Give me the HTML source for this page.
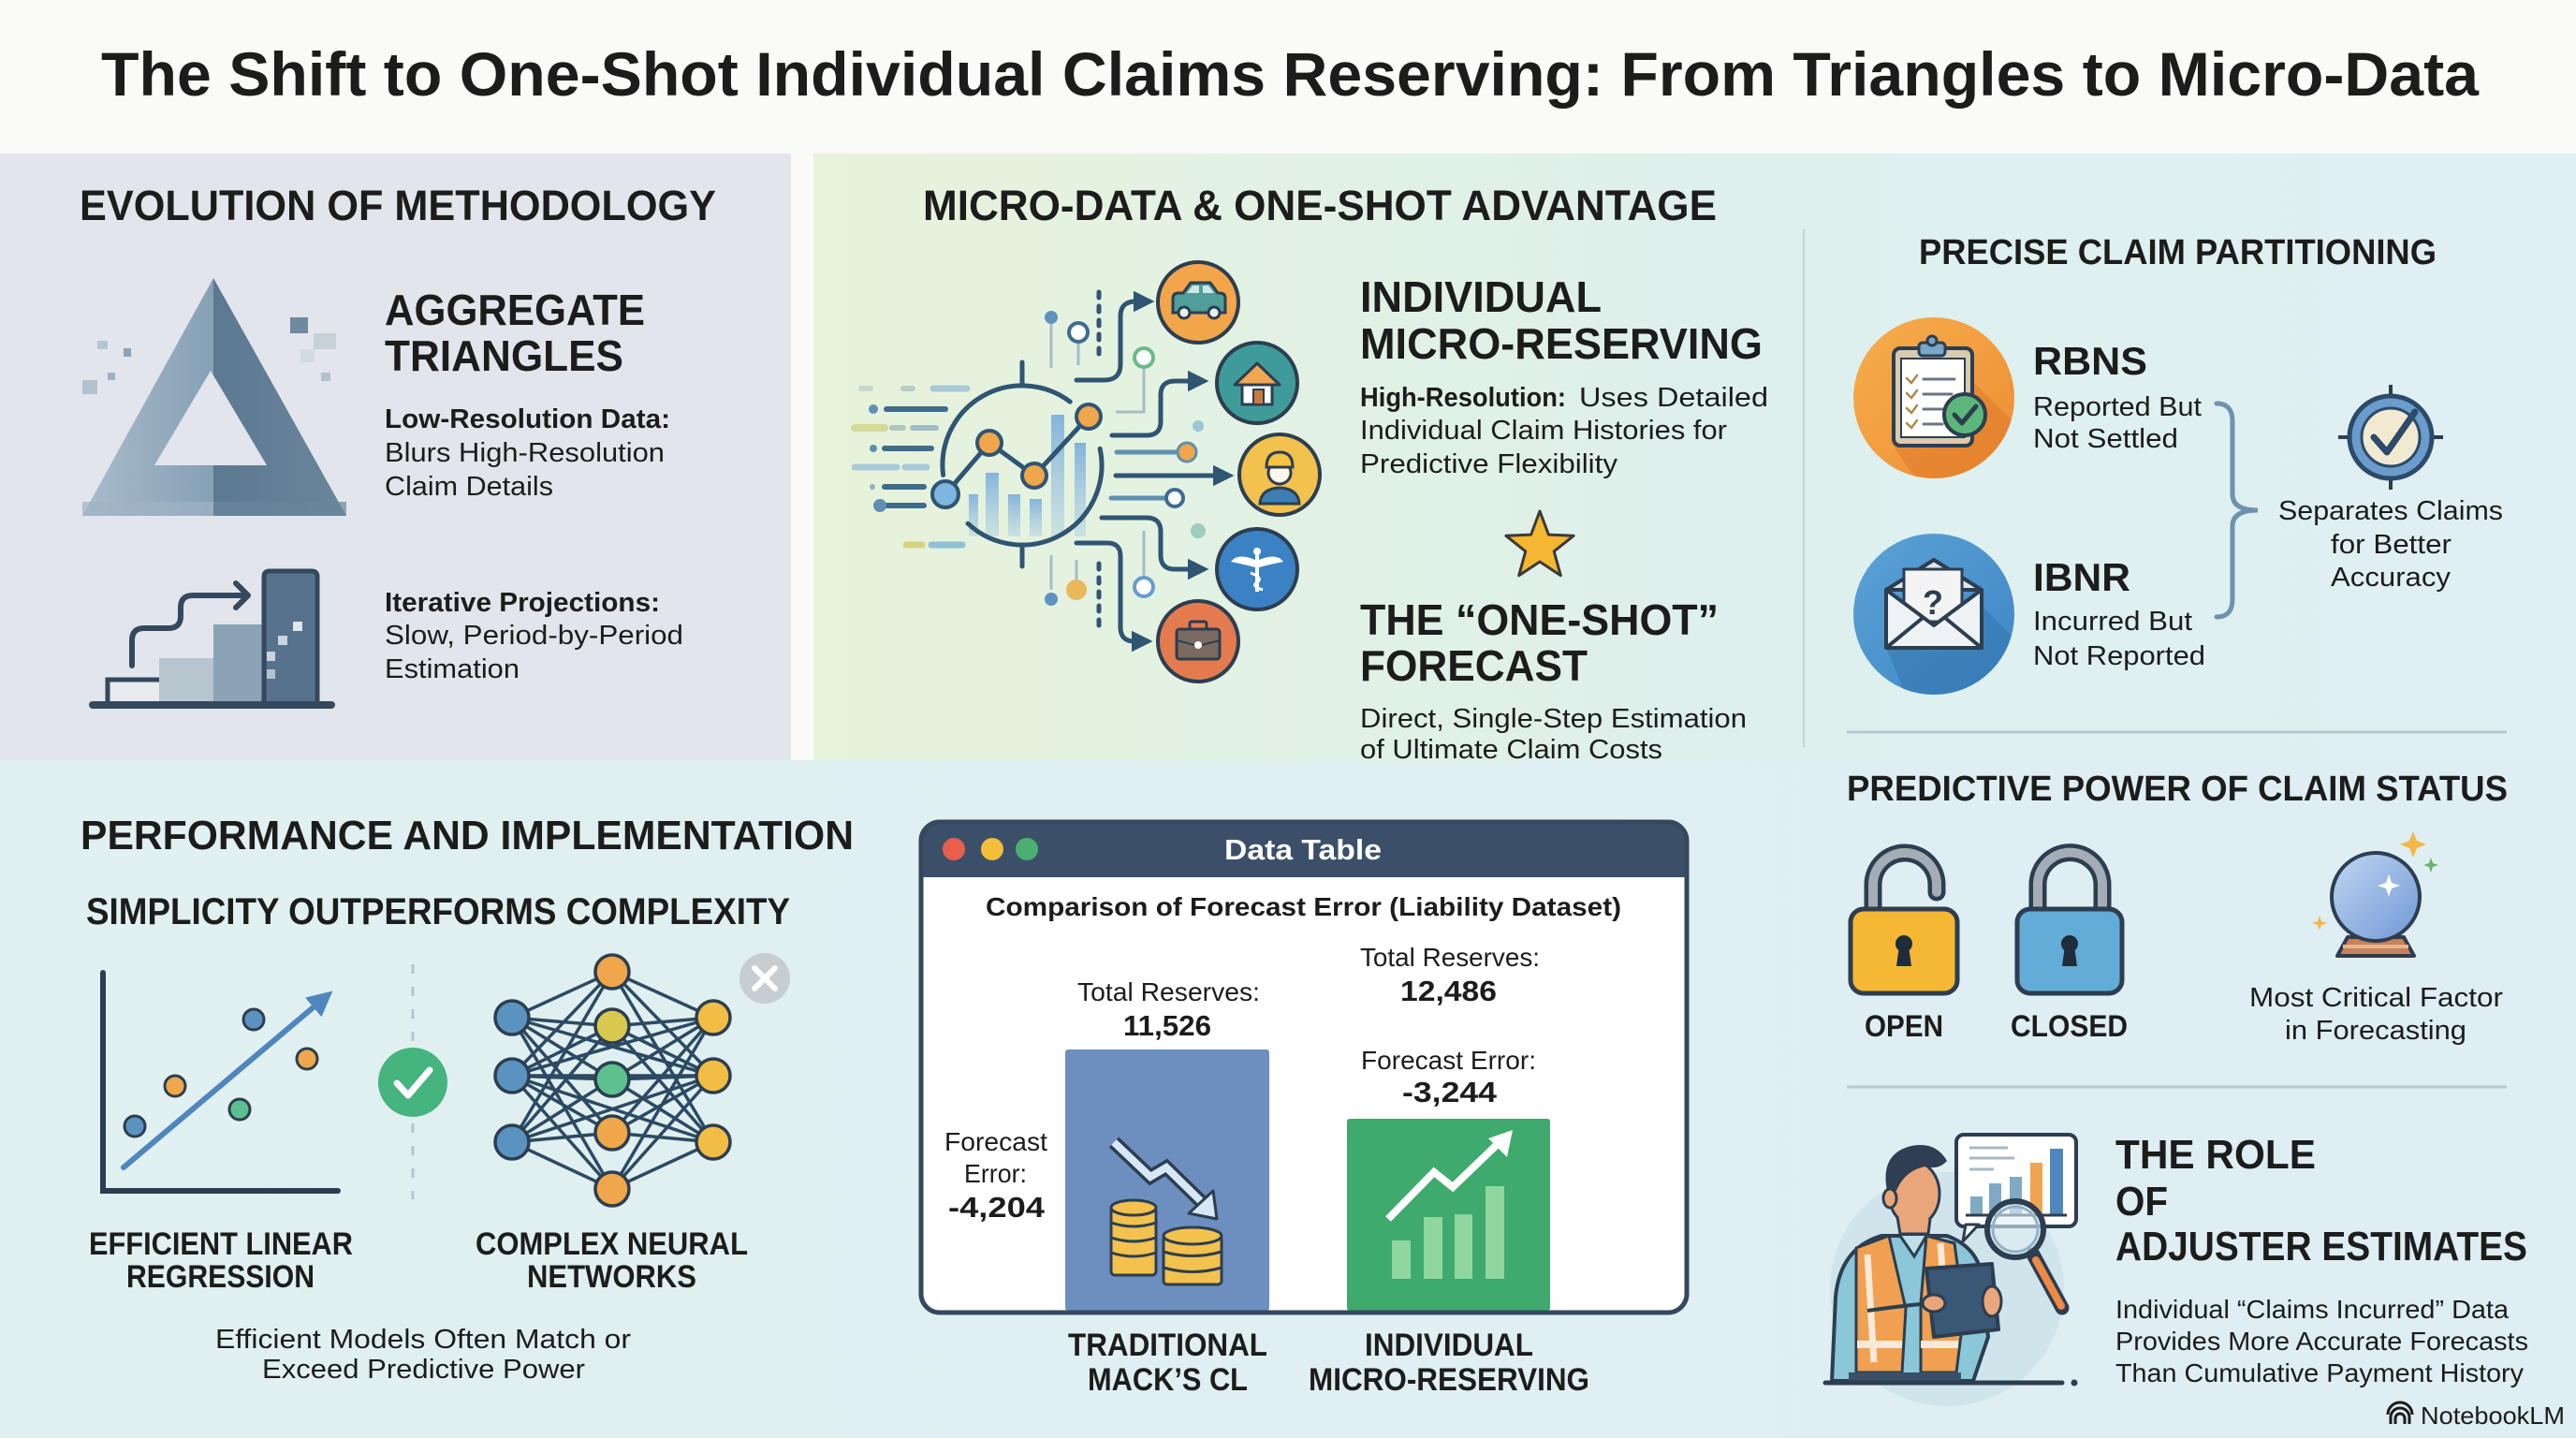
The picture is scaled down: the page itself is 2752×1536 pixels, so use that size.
<!DOCTYPE html>
<html><head><meta charset="utf-8"><style>
html,body{margin:0;padding:0;background:#fafaf8;}
svg{display:block;}
text{font-family:"Liberation Sans",sans-serif;fill:#1c1c1c;}
.b{font-weight:bold;}
</style></head><body>
<svg width="2752" height="1536" viewBox="0 0 2752 1536" xmlns="http://www.w3.org/2000/svg">
<defs>
 <linearGradient id="gMid" x1="869" y1="0" x2="2752" y2="0" gradientUnits="userSpaceOnUse">
  <stop offset="0" stop-color="#e7f3da"/>
  <stop offset="0.3" stop-color="#e1f1e5"/>
  <stop offset="0.55" stop-color="#def0ee"/>
  <stop offset="1" stop-color="#e0eff3"/>
 </linearGradient>
 <linearGradient id="gBot" x1="0" y1="0" x2="2752" y2="0" gradientUnits="userSpaceOnUse">
  <stop offset="0" stop-color="#e1f0f1"/>
  <stop offset="1" stop-color="#deeef2"/>
 </linearGradient>
 <linearGradient id="gTri" x1="88" x2="370" y1="0" y2="0" gradientUnits="userSpaceOnUse">
  <stop offset="0" stop-color="#a9bccb"/><stop offset="0.497" stop-color="#86a0b5"/>
  <stop offset="0.497" stop-color="#5c7992"/><stop offset="1" stop-color="#6b859b"/>
 </linearGradient>
 <linearGradient id="gOr" x1="0" y1="0" x2="1" y2="1">
  <stop offset="0" stop-color="#f7ae4e"/><stop offset="1" stop-color="#ec8d33"/>
 </linearGradient>
 <linearGradient id="gBl" x1="0" y1="0" x2="1" y2="1">
  <stop offset="0" stop-color="#5aa2d6"/><stop offset="1" stop-color="#3f86c4"/>
 </linearGradient>
 <linearGradient id="gBall" x1="0" y1="0" x2="1" y2="1">
  <stop offset="0" stop-color="#c2d6f2"/><stop offset="1" stop-color="#6f98d6"/>
 </linearGradient>
 <linearGradient id="gBar" x1="0" y1="0" x2="0" y2="1">
  <stop offset="0" stop-color="#7fb0da" stop-opacity="0.95"/><stop offset="1" stop-color="#9cc4e2" stop-opacity="0.35"/>
 </linearGradient>
 <clipPath id="cR"><circle cx="2066" cy="425" r="86"/></clipPath>
 <clipPath id="cI"><circle cx="2066" cy="656" r="86"/></clipPath>
 <marker id="ah" viewBox="0 0 10 10" refX="4" refY="5" markerWidth="4.5" markerHeight="4.5" orient="auto" markerUnits="strokeWidth">
  <path d="M0,0 L10,5 L0,10 z" fill="#2f5573"/>
 </marker>
 <marker id="ahb" viewBox="0 0 10 10" refX="4" refY="5" markerWidth="4.5" markerHeight="4.5" orient="auto" markerUnits="strokeWidth">
  <path d="M0,0 L10,5 L0,10 z" fill="#4f86bd"/>
 </marker>
</defs>

<!-- backgrounds -->
<rect x="0" y="0" width="2752" height="1536" fill="#fafaf8"/>
<rect x="0" y="812" width="2752" height="724" fill="url(#gBot)"/>
<rect x="0" y="164" width="845" height="648" fill="#e3e5ec"/>
<rect x="869" y="164" width="1883" height="648" fill="url(#gMid)"/>

<!-- title -->
<text class="b" x="108" y="102" font-size="66" textLength="2540" lengthAdjust="spacingAndGlyphs">The Shift to One-Shot Individual Claims Reserving: From Triangles to Micro-Data</text>

<!-- ============ LEFT PANEL ============ -->
<text class="b" x="85" y="235" font-size="45" textLength="680" lengthAdjust="spacingAndGlyphs">EVOLUTION OF METHODOLOGY</text>

<!-- pixel triangle -->
<polygon points="228,297 370,551 88,551" fill="url(#gTri)"/>
<polygon points="225,396 285,497 165,497" fill="#e3e5ec"/>
<rect x="88" y="536" width="140" height="15" fill="#9fb4c4" opacity="0.7"/>
<rect x="228" y="536" width="142" height="15" fill="#6a869d" opacity="0.7"/>
<rect x="310" y="339" width="19" height="17" fill="#6f8aa0"/>
<rect x="335" y="356" width="24" height="17" fill="#c6d1da"/>
<rect x="321" y="373" width="15" height="14" fill="#d3dbe2"/>
<rect x="343" y="398" width="10" height="9" fill="#b3c2cf"/>
<rect x="104" y="364" width="11" height="9" fill="#b8c5d0"/>
<rect x="132" y="372" width="8" height="9" fill="#8ea4b6"/>
<rect x="115" y="398" width="8" height="8" fill="#9fb2c2"/>
<rect x="88" y="406" width="16" height="15" fill="#b3c2cf"/>

<text class="b" x="411" y="347" font-size="46" textLength="278" lengthAdjust="spacingAndGlyphs">AGGREGATE</text>
<text class="b" x="411" y="396" font-size="46" textLength="255" lengthAdjust="spacingAndGlyphs">TRIANGLES</text>
<text class="b" x="411" y="457" font-size="29" textLength="305" lengthAdjust="spacingAndGlyphs">Low-Resolution Data:</text>
<text x="411" y="493" font-size="29" textLength="299" lengthAdjust="spacingAndGlyphs">Blurs High-Resolution</text>
<text x="411" y="529" font-size="29" textLength="180" lengthAdjust="spacingAndGlyphs">Claim Details</text>

<!-- stairs icon -->
<rect x="170" y="703" width="58" height="50" fill="#b7c5cf"/>
<rect x="228" y="667" width="54" height="86" fill="#8ba3b5"/>
<rect x="115" y="726" width="55" height="27" fill="#e8ecef"/>
<path d="M115,753 V726 H170" fill="none" stroke="#34495e" stroke-width="5"/>
<path d="M282,753 V616 Q282,610 288,610 H333 Q339,610 339,616 V753 Z" fill="#56728d" stroke="#34495e" stroke-width="5"/>
<rect x="313" y="664" width="10" height="10" fill="#dfe6ec"/>
<rect x="297" y="679" width="10" height="10" fill="#c9d4dd"/>
<rect x="285" y="696" width="9" height="10" fill="#c9d4dd"/>
<rect x="285" y="715" width="9" height="10" fill="#b3c3cf"/>
<path d="M99,753 H354" stroke="#34495e" stroke-width="8" stroke-linecap="round"/>
<path d="M141,711 V684 Q141,671 154,671 H180 Q193,671 193,658 V649 Q193,636 206,636 H263" fill="none" stroke="#34495e" stroke-width="6" stroke-linecap="round"/>
<path d="M252,623 L265,636 L252,649" fill="none" stroke="#34495e" stroke-width="6" stroke-linecap="round" stroke-linejoin="round"/>

<text class="b" x="411" y="653" font-size="29" textLength="294" lengthAdjust="spacingAndGlyphs">Iterative Projections:</text>
<text x="411" y="688" font-size="29" textLength="319" lengthAdjust="spacingAndGlyphs">Slow, Period-by-Period</text>
<text x="411" y="724" font-size="29" textLength="144" lengthAdjust="spacingAndGlyphs">Estimation</text>

<!-- ============ MIDDLE PANEL ============ -->
<text class="b" x="986" y="235" font-size="45" textLength="848" lengthAdjust="spacingAndGlyphs">MICRO-DATA &amp; ONE-SHOT ADVANTAGE</text>

<!-- streams -->
<g stroke-linecap="round" fill="none">
 <path d="M920,415 H930" stroke="#c8d6cf" stroke-width="6"/>
 <path d="M965,415 H975" stroke="#bcccc4" stroke-width="6"/>
 <path d="M997,415 H1033" stroke="#8fb8d4" stroke-width="7" opacity="0.7"/>
 <path d="M947,437 H1010" stroke="#3f6c8c" stroke-width="6"/>
 <path d="M913,457 H945" stroke="#d0d38a" stroke-width="8" opacity="0.85"/>
 <path d="M953,457 H965" stroke="#b0c8c0" stroke-width="6"/>
 <path d="M975,457 H1000" stroke="#8fb0c0" stroke-width="6" opacity="0.8"/>
 <path d="M945,479 H995" stroke="#3f6c8c" stroke-width="6"/>
 <path d="M913,499 H958" stroke="#a9cbd8" stroke-width="7"/>
 <path d="M967,499 H990" stroke="#a9cbd8" stroke-width="7"/>
 <path d="M945,520 H987" stroke="#3f6c8c" stroke-width="6"/>
 <path d="M947,540 H987" stroke="#3f6c8c" stroke-width="6"/>
 <path d="M968,582 H985" stroke="#d6d37e" stroke-width="7"/>
 <path d="M995,582 H1028" stroke="#8fc0d8" stroke-width="7"/>
</g>
<circle cx="933" cy="437" r="5" fill="#5f8fb5"/>
<circle cx="933" cy="479" r="4" fill="#5f8fb5"/>
<circle cx="932" cy="520" r="3" fill="#8fb0c0"/>
<circle cx="940" cy="540" r="7" fill="#5f8fb5"/>

<!-- chart bars -->
<rect x="1035" y="528" width="10" height="45" fill="url(#gBar)"/>
<rect x="1053" y="505" width="14" height="68" fill="url(#gBar)"/>
<rect x="1077" y="528" width="13" height="45" fill="url(#gBar)"/>
<rect x="1100" y="533" width="13" height="40" fill="url(#gBar)"/>
<rect x="1123" y="443" width="14" height="130" fill="url(#gBar)"/>
<rect x="1148" y="473" width="12" height="100" fill="url(#gBar)"/>
<!-- arcs -->
<path d="M1007.6,507.4 A85,85 0 0 1 1143.2,429.1" fill="none" stroke="#2f5573" stroke-width="5" stroke-linecap="round"/>
<path d="M1175.1,479.3 A85,85 0 0 1 1034,559.2" fill="none" stroke="#2f5573" stroke-width="5" stroke-linecap="round"/>
<path d="M1092,387 V412 M1092,582 V605" stroke="#2f5573" stroke-width="5" stroke-linecap="round"/>
<polyline points="1010,528 1057,473 1105,508 1163,445" fill="none" stroke="#2f5573" stroke-width="5"/>
<circle cx="1010" cy="528" r="14" fill="#7fb6e0" stroke="#2f5573" stroke-width="4"/>
<circle cx="1057" cy="473" r="13" fill="#f0a64a" stroke="#2f5573" stroke-width="4"/>
<circle cx="1105" cy="508" r="13" fill="#f0a64a" stroke="#2f5573" stroke-width="4"/>
<circle cx="1163" cy="445" r="13" fill="#f0a64a" stroke="#2f5573" stroke-width="4"/>

<!-- connectors -->
<g fill="none" stroke="#2f5573" stroke-width="5" stroke-linecap="round">
 <path d="M1150,406 H1180 Q1197,406 1197,389 V338 Q1197,322 1213,322 H1220" marker-end="url(#ah)"/>
 <path d="M1188,465 H1225 Q1240,465 1240,450 V422 Q1240,407 1255,407 H1278" marker-end="url(#ah)"/>
 <path d="M1192,508 H1305" marker-end="url(#ah)"/>
 <path d="M1177,553 H1225 Q1240,553 1240,568 V593 Q1240,608 1255,608 H1278" marker-end="url(#ah)"/>
 <path d="M1150,580 H1183 Q1197,580 1197,594 V670 Q1197,685 1212,685 H1218" marker-end="url(#ah)"/>
 <path d="M1193,483 H1258" stroke="#5f8fb0" stroke-width="5"/>
 <path d="M1187,532 H1246" stroke="#5f8fb0" stroke-width="5"/>
 <path d="M1174,312 V382 M1174,602 V673" stroke-dasharray="6 9" stroke-width="5"/>
</g>
<circle cx="1268" cy="483" r="10" fill="#f0a64a" stroke="#5f8fb0" stroke-width="3"/>
<circle cx="1255" cy="532" r="9" fill="#fff" stroke="#3f6c92" stroke-width="4"/>
<g fill="none" stroke="#a8bcca" stroke-width="3">
 <path d="M1123,345 V393"/><path d="M1152,365 V390"/>
 <path d="M1222,392 V440 H1192"/><path d="M1123,593 V630"/>
 <path d="M1150,598 V619"/><path d="M1222,567 V617"/>
</g>
<circle cx="1123" cy="339" r="7" fill="#5f93bd"/>
<circle cx="1152" cy="355" r="10" fill="#fff" stroke="#3f6c92" stroke-width="4"/>
<circle cx="1222" cy="382" r="10" fill="#fff" stroke="#6cb88a" stroke-width="4"/>
<circle cx="1123" cy="640" r="7" fill="#5f93bd"/>
<circle cx="1150" cy="630" r="11" fill="#eab04a" opacity="0.9"/>
<circle cx="1222" cy="627" r="10" fill="#fff" stroke="#6a9ccc" stroke-width="4"/>
<circle cx="1280" cy="567" r="8" fill="#8fc2b8" opacity="0.8"/>
<circle cx="1280" cy="455" r="6" fill="#9ec5d6"/>

<!-- icon circles -->
<circle cx="1280" cy="323" r="43" fill="#f3a54a" stroke="#2c3e50" stroke-width="4"/>
<path d="M1253,334 V319 Q1253,313 1259,313 H1264 L1272,302 H1293 L1301,313 H1303 Q1309,313 1309,319 V334 Z" fill="#4e9e9a" stroke="#2c3e50" stroke-width="3"/>
<path d="M1268,313 L1274,305 H1281 V313 Z M1285,313 V305 H1291 L1297,313 Z" fill="#cfe6e2"/>
<circle cx="1265" cy="334" r="6" fill="#e6f0ee" stroke="#2c3e50" stroke-width="3"/>
<circle cx="1297" cy="334" r="6" fill="#e6f0ee" stroke="#2c3e50" stroke-width="3"/>

<circle cx="1343" cy="409" r="43" fill="#3f9b99" stroke="#2c3e50" stroke-width="4"/>
<rect x="1327" y="406" width="32" height="26" fill="#fff" stroke="#2c3e50" stroke-width="3"/>
<polygon points="1319,411 1343,388 1367,411" fill="#f2a552" stroke="#2c3e50" stroke-width="3" stroke-linejoin="round"/>
<rect x="1339" y="416" width="11" height="16" fill="#c97a3e" stroke="#2c3e50" stroke-width="2"/>

<circle cx="1367" cy="507" r="43" fill="#f2c14e" stroke="#2c3e50" stroke-width="4"/>
<path d="M1346,538 Q1347,522 1367,521 Q1387,522 1388,538 Z" fill="#3d7fb5" stroke="#2c3e50" stroke-width="3"/>
<circle cx="1367" cy="505" r="12" fill="#fdf6ea" stroke="#2c3e50" stroke-width="3"/>
<path d="M1353,499 Q1353,483 1367,483 Q1381,483 1381,499 Z" fill="#f5c542" stroke="#2c3e50" stroke-width="3"/>

<circle cx="1343" cy="608" r="43" fill="#3b82c4" stroke="#2c3e50" stroke-width="4"/>
<path d="M1343,590 V632" stroke="#fff" stroke-width="4"/>
<circle cx="1343" cy="589" r="4" fill="#fff"/>
<path d="M1341,598 Q1322,590 1315,600 Q1330,603 1341,606 Z M1345,598 Q1364,590 1371,600 Q1356,603 1345,606 Z" fill="#fff"/>
<path d="M1336,612 Q1350,617 1343,622 Q1336,626 1349,630" fill="none" stroke="#fff" stroke-width="3"/>

<circle cx="1280" cy="685" r="43" fill="#e47b4f" stroke="#2c3e50" stroke-width="4"/>
<rect x="1271" y="664" width="18" height="10" rx="2" fill="none" stroke="#2c3e50" stroke-width="3"/>
<rect x="1257" y="672" width="46" height="32" rx="3" fill="#7a6a5f" stroke="#2c3e50" stroke-width="3"/>
<path d="M1257,684 L1280,690 L1303,684" fill="none" stroke="#2c3e50" stroke-width="2"/>
<circle cx="1280" cy="689" r="4" fill="#fff"/>

<text class="b" x="1453" y="333" font-size="46" textLength="258" lengthAdjust="spacingAndGlyphs">INDIVIDUAL</text>
<text class="b" x="1453" y="383" font-size="46" textLength="430" lengthAdjust="spacingAndGlyphs">MICRO-RESERVING</text>
<text class="b" x="1453" y="434" font-size="29" textLength="220" lengthAdjust="spacingAndGlyphs">High-Resolution:</text>
<text x="1687" y="434" font-size="29" textLength="202" lengthAdjust="spacingAndGlyphs">Uses Detailed</text>
<text x="1453" y="469" font-size="29" textLength="392" lengthAdjust="spacingAndGlyphs">Individual Claim Histories for</text>
<text x="1453" y="505" font-size="29" textLength="275" lengthAdjust="spacingAndGlyphs">Predictive Flexibility</text>

<polygon points="1645,546 1654.4,571.1 1681.1,572.3 1660.2,588.9 1667.3,614.7 1645,600 1622.7,614.7 1629.8,588.9 1608.9,572.3 1635.6,571.1" fill="#f5b731" stroke="#3a3a3a" stroke-width="3" stroke-linejoin="round"/>

<text class="b" x="1453" y="678" font-size="46" textLength="383" lengthAdjust="spacingAndGlyphs">THE “ONE-SHOT”</text>
<text class="b" x="1453" y="727" font-size="46" textLength="243" lengthAdjust="spacingAndGlyphs">FORECAST</text>
<text x="1453" y="777" font-size="29" textLength="413" lengthAdjust="spacingAndGlyphs">Direct, Single-Step Estimation</text>
<text x="1453" y="810" font-size="29" textLength="323" lengthAdjust="spacingAndGlyphs">of Ultimate Claim Costs</text>

<!-- ============ RIGHT TOP ============ -->
<path d="M1927,245 V798" stroke="#c5d1d7" stroke-width="2"/>
<text class="b" x="2050" y="282" font-size="38" textLength="553" lengthAdjust="spacingAndGlyphs">PRECISE CLAIM PARTITIONING</text>

<circle cx="2066" cy="425" r="86" fill="url(#gOr)"/>
<polygon points="2100,400 2200,500 2200,560 2080,560 2023,477 2106,477" fill="#e0792a" opacity="0.55" clip-path="url(#cR)"/>
<rect x="2023" y="372" width="84" height="104" rx="7" fill="#d9cbb0" stroke="#2c3e50" stroke-width="4"/>
<rect x="2031" y="383" width="68" height="84" fill="#fff" stroke="#2c3e50" stroke-width="2"/>
<rect x="2050" y="366" width="28" height="14" rx="4" fill="#7aa6c8" stroke="#2c3e50" stroke-width="3"/>
<circle cx="2064" cy="364" r="5" fill="#7aa6c8" stroke="#2c3e50" stroke-width="3"/>
<g fill="none" stroke="#b08a4a" stroke-width="2.5" stroke-linecap="round">
 <path d="M2037,404 L2042,409 L2048,401"/><path d="M2037,420 L2042,425 L2048,417"/>
 <path d="M2037,436 L2042,441 L2048,433"/><path d="M2037,452 L2042,457 L2048,449"/>
</g>
<g stroke="#6b7480" stroke-width="3" stroke-linecap="round">
 <path d="M2055,405 H2088"/><path d="M2055,421 H2085"/><path d="M2055,437 H2075"/><path d="M2055,453 H2075"/>
</g>
<circle cx="2099" cy="443" r="22" fill="#5cb87a" stroke="#2c3e50" stroke-width="4"/>
<path d="M2088,443 L2096,452 L2111,434" fill="none" stroke="#2c3e50" stroke-width="5" stroke-linecap="round" stroke-linejoin="round"/>

<text class="b" x="2172" y="400" font-size="42" textLength="122" lengthAdjust="spacingAndGlyphs">RBNS</text>
<text x="2172" y="444" font-size="29" textLength="180" lengthAdjust="spacingAndGlyphs">Reported But</text>
<text x="2172" y="478" font-size="29" textLength="155" lengthAdjust="spacingAndGlyphs">Not Settled</text>

<circle cx="2066" cy="656" r="86" fill="url(#gBl)"/>
<polygon points="2110,640 2200,730 2200,800 2060,800 2015,692 2117,692" fill="#2f6fa9" opacity="0.45" clip-path="url(#cI)"/>
<polygon points="2015,630 2066,598 2117,630" fill="#dfe6ec" stroke="#2c3e50" stroke-width="4" stroke-linejoin="round"/>
<rect x="2034" y="608" width="62" height="56" fill="#f4f4f4" stroke="#2c3e50" stroke-width="3"/>
<text class="b" x="2065" y="656" font-size="36" text-anchor="middle" fill="#2c3e50" style="fill:#2c3e50">?</text>
<path d="M2015,630 L2066,668 L2117,630 V692 H2015 Z" fill="#eef2f5" stroke="#2c3e50" stroke-width="4" stroke-linejoin="round"/>
<path d="M2015,692 L2054,660 M2117,692 L2078,660" stroke="#2c3e50" stroke-width="4"/>

<text class="b" x="2172" y="631" font-size="42" textLength="104" lengthAdjust="spacingAndGlyphs">IBNR</text>
<text x="2172" y="673" font-size="29" textLength="170" lengthAdjust="spacingAndGlyphs">Incurred But</text>
<text x="2172" y="710" font-size="29" textLength="184" lengthAdjust="spacingAndGlyphs">Not Reported</text>

<path d="M2368,431 Q2385,431 2385,450 V528 Q2385,545 2412,545 Q2385,545 2385,562 V640 Q2385,659 2368,659" fill="none" stroke="#6d92ad" stroke-width="5" stroke-linecap="round"/>

<!-- target -->
<path d="M2498,467 H2610 M2554,411 V523" stroke="#2c3e50" stroke-width="4"/>
<circle cx="2554" cy="467" r="44" fill="#6a9ccc" stroke="#2c4a6a" stroke-width="5"/>
<circle cx="2554" cy="467" r="31" fill="#f2ead0" stroke="#2c4a6a" stroke-width="3"/>
<path d="M2536,467 L2550,483 L2580,440" fill="none" stroke="#2c4a6a" stroke-width="7" stroke-linecap="round" stroke-linejoin="round"/>

<text x="2434" y="555" font-size="29" textLength="240" lengthAdjust="spacingAndGlyphs">Separates Claims</text>
<text x="2490" y="591" font-size="29" textLength="129" lengthAdjust="spacingAndGlyphs">for Better</text>
<text x="2490" y="626" font-size="29" textLength="128" lengthAdjust="spacingAndGlyphs">Accuracy</text>

<path d="M1973,782 H2678" stroke="#b7c8d1" stroke-width="3"/>

<!-- ============ BOTTOM LEFT ============ -->
<text class="b" x="86" y="907" font-size="44" textLength="826" lengthAdjust="spacingAndGlyphs">PERFORMANCE AND IMPLEMENTATION</text>
<text class="b" x="92" y="987" font-size="40" textLength="752" lengthAdjust="spacingAndGlyphs">SIMPLICITY OUTPERFORMS COMPLEXITY</text>

<path d="M110,1039 V1272 H361" fill="none" stroke="#2c3e50" stroke-width="6" stroke-linecap="round"/>
<path d="M132,1247 L343,1069" stroke="#4f86bd" stroke-width="6" stroke-linecap="round" marker-end="url(#ahb)"/>
<circle cx="144" cy="1203" r="11" fill="#5b93c0" stroke="#2c3e50" stroke-width="3"/>
<circle cx="187" cy="1160" r="11" fill="#f0a64a" stroke="#2c3e50" stroke-width="3"/>
<circle cx="256" cy="1185" r="11" fill="#5cbf8f" stroke="#2c3e50" stroke-width="3"/>
<circle cx="271" cy="1089" r="11" fill="#5b93c0" stroke="#2c3e50" stroke-width="3"/>
<circle cx="328" cy="1131" r="11" fill="#f0a64a" stroke="#2c3e50" stroke-width="3"/>

<path d="M441,1030 V1112 M441,1200 V1281" stroke="#b8c4cc" stroke-width="3" stroke-dasharray="10 14"/>
<circle cx="441" cy="1156" r="37" fill="#45b47f"/>
<path d="M424,1157 L436,1170 L459,1143" fill="none" stroke="#fff" stroke-width="7" stroke-linecap="round" stroke-linejoin="round"/>

<path stroke="#2c4a63" stroke-width="3.5" fill="none" d="
M547,1087 L654,1038 M547,1087 L654,1096 M547,1087 L654,1153 M547,1087 L654,1210 M547,1087 L654,1270
M547,1149 L654,1038 M547,1149 L654,1096 M547,1149 L654,1153 M547,1149 L654,1210 M547,1149 L654,1270
M547,1220 L654,1038 M547,1220 L654,1096 M547,1220 L654,1153 M547,1220 L654,1210 M547,1220 L654,1270
M762,1087 L654,1038 M762,1087 L654,1096 M762,1087 L654,1153 M762,1087 L654,1210 M762,1087 L654,1270
M762,1149 L654,1038 M762,1149 L654,1096 M762,1149 L654,1153 M762,1149 L654,1210 M762,1149 L654,1270
M762,1220 L654,1038 M762,1220 L654,1096 M762,1220 L654,1153 M762,1220 L654,1210 M762,1220 L654,1270
M547,1087 L762,1149 M547,1149 L762,1087 M547,1149 L762,1220 M547,1220 L762,1149 M547,1149 L762,1149"/>
<g stroke="#2c3e50" stroke-width="3.5">
 <circle cx="547" cy="1087" r="18" fill="#5b93c0"/>
 <circle cx="547" cy="1149" r="18" fill="#5b93c0"/>
 <circle cx="547" cy="1220" r="18" fill="#5b93c0"/>
 <circle cx="654" cy="1038" r="18" fill="#f0a64a"/>
 <circle cx="654" cy="1096" r="18" fill="#d9c94e"/>
 <circle cx="654" cy="1153" r="18" fill="#5cc08f"/>
 <circle cx="654" cy="1210" r="18" fill="#f0a64a"/>
 <circle cx="654" cy="1270" r="18" fill="#f0a64a"/>
 <circle cx="762" cy="1087" r="18" fill="#f2bd45"/>
 <circle cx="762" cy="1149" r="18" fill="#f2bd45"/>
 <circle cx="762" cy="1220" r="18" fill="#f2bd45"/>
</g>
<circle cx="817" cy="1045" r="27" fill="#c6cdd3"/>
<path d="M806,1034 L828,1056 M828,1034 L806,1056" stroke="#fff" stroke-width="6" stroke-linecap="round"/>

<text class="b" x="95" y="1340" font-size="34" textLength="282" lengthAdjust="spacingAndGlyphs">EFFICIENT LINEAR</text>
<text class="b" x="135" y="1375" font-size="34" textLength="201" lengthAdjust="spacingAndGlyphs">REGRESSION</text>
<text class="b" x="508" y="1340" font-size="34" textLength="291" lengthAdjust="spacingAndGlyphs">COMPLEX NEURAL</text>
<text class="b" x="563" y="1375" font-size="34" textLength="181" lengthAdjust="spacingAndGlyphs">NETWORKS</text>
<text x="230" y="1440" font-size="29" textLength="444" lengthAdjust="spacingAndGlyphs">Efficient Models Often Match or</text>
<text x="280" y="1472" font-size="29" textLength="345" lengthAdjust="spacingAndGlyphs">Exceed Predictive Power</text>

<!-- ============ DATA TABLE ============ -->
<rect x="984" y="878" width="818" height="524" rx="20" fill="#fff"/>
<path d="M984,937 V898 Q984,878 1004,878 H1782 Q1802,878 1802,898 V937 Z" fill="#3b5068"/>
<circle cx="1019" cy="907" r="12" fill="#e8604c"/>
<circle cx="1060" cy="907" r="12" fill="#f4bd3a"/>
<circle cx="1097" cy="907" r="12" fill="#4caf72"/>
<text class="b" x="1308" y="918" font-size="31" textLength="168" lengthAdjust="spacingAndGlyphs" style="fill:#fff">Data Table</text>
<text class="b" x="1053" y="978" font-size="28" textLength="679" lengthAdjust="spacingAndGlyphs">Comparison of Forecast Error (Liability Dataset)</text>

<rect x="1138" y="1121" width="218" height="279" rx="3" fill="#6c8fbf"/>
<rect x="1439" y="1195" width="217" height="205" rx="3" fill="#3eaa6d"/>

<!-- down arrow -->
<path d="M1190,1220 L1229,1257 L1246,1247 L1290,1290" fill="none" stroke="#2c3e50" stroke-width="15" stroke-linejoin="miter"/>
<path d="M1190,1220 L1229,1257 L1246,1247 L1290,1290" fill="none" stroke="#d6e8f6" stroke-width="8" stroke-linejoin="miter"/>
<polygon points="1300,1302 1270,1296 1296,1272" fill="#d6e8f6" stroke="#2c3e50" stroke-width="3" stroke-linejoin="round"/>
<!-- coins -->
<g stroke="#2c3e50" stroke-width="3" fill="#f2c14e">
 <rect x="1187" y="1290" width="48" height="72" rx="4"/>
 <ellipse cx="1211" cy="1290" rx="24" ry="8"/>
 <path d="M1187,1306 Q1211,1314 1235,1306 M1187,1322 Q1211,1330 1235,1322 M1187,1338 Q1211,1346 1235,1338" fill="none"/>
 <rect x="1243" y="1320" width="62" height="52" rx="4"/>
 <ellipse cx="1274" cy="1320" rx="31" ry="9"/>
 <path d="M1243,1337 Q1274,1346 1305,1337 M1243,1354 Q1274,1363 1305,1354" fill="none"/>
</g>
<!-- green chart -->
<rect x="1487" y="1325" width="20" height="41" fill="#8fd6a0"/>
<rect x="1521" y="1300" width="20" height="66" fill="#8fd6a0"/>
<rect x="1554" y="1297" width="19" height="69" fill="#8fd6a0"/>
<rect x="1587" y="1267" width="20" height="99" fill="#8fd6a0"/>
<polyline points="1483,1302 1532,1252 1552,1268 1603,1219" fill="none" stroke="#fff" stroke-width="8" stroke-linejoin="miter"/>
<polygon points="1616,1207 1610,1236 1590,1216" fill="#fff"/>

<rect x="984" y="878" width="818" height="524" rx="20" fill="none" stroke="#34495e" stroke-width="5"/>

<text x="1151" y="1069" font-size="28" textLength="195" lengthAdjust="spacingAndGlyphs">Total Reserves:</text>
<text class="b" x="1200" y="1106" font-size="31" textLength="94" lengthAdjust="spacingAndGlyphs">11,526</text>
<text x="1453" y="1032" font-size="28" textLength="192" lengthAdjust="spacingAndGlyphs">Total Reserves:</text>
<text class="b" x="1496" y="1069" font-size="31" textLength="103" lengthAdjust="spacingAndGlyphs">12,486</text>
<text x="1454" y="1142" font-size="28" textLength="187" lengthAdjust="spacingAndGlyphs">Forecast Error:</text>
<text class="b" x="1498" y="1177" font-size="31" textLength="101" lengthAdjust="spacingAndGlyphs">-3,244</text>
<text x="1009" y="1229" font-size="28" textLength="110" lengthAdjust="spacingAndGlyphs">Forecast</text>
<text x="1030" y="1263" font-size="28" textLength="67" lengthAdjust="spacingAndGlyphs">Error:</text>
<text class="b" x="1013" y="1300" font-size="31" textLength="103" lengthAdjust="spacingAndGlyphs">-4,204</text>

<text class="b" x="1141" y="1448" font-size="34" textLength="213" lengthAdjust="spacingAndGlyphs">TRADITIONAL</text>
<text class="b" x="1162" y="1485" font-size="34" textLength="171" lengthAdjust="spacingAndGlyphs">MACK’S CL</text>
<text class="b" x="1458" y="1448" font-size="34" textLength="180" lengthAdjust="spacingAndGlyphs">INDIVIDUAL</text>
<text class="b" x="1398" y="1485" font-size="34" textLength="300" lengthAdjust="spacingAndGlyphs">MICRO-RESERVING</text>

<!-- ============ BOTTOM RIGHT ============ -->
<text class="b" x="1973" y="855" font-size="38" textLength="706" lengthAdjust="spacingAndGlyphs">PREDICTIVE POWER OF CLAIM STATUS</text>

<!-- open lock -->
<path d="M2001,975 V945 A34,34 0 0 1 2069,945 V953" fill="none" stroke="#2c3e50" stroke-width="19" stroke-linecap="round"/>
<path d="M2001,975 V945 A34,34 0 0 1 2069,945 V953" fill="none" stroke="#a4adb6" stroke-width="10" stroke-linecap="round"/>
<rect x="1977" y="971" width="114" height="90" rx="14" fill="#f5b835" stroke="#2c3e50" stroke-width="5"/>
<circle cx="2034" cy="1008" r="9" fill="#1f2d3a"/>
<path d="M2029,1010 L2026,1032 H2042 L2039,1010 Z" fill="#1f2d3a"/>
<!-- closed lock -->
<path d="M2177,975 V945 A34.5,34.5 0 0 1 2246,945 V975" fill="none" stroke="#2c3e50" stroke-width="19"/>
<path d="M2177,975 V945 A34.5,34.5 0 0 1 2246,945 V975" fill="none" stroke="#a4adb6" stroke-width="10"/>
<rect x="2155" y="971" width="112" height="90" rx="14" fill="#62acd8" stroke="#2c3e50" stroke-width="5"/>
<circle cx="2211" cy="1008" r="9" fill="#1f2d3a"/>
<path d="M2206,1010 L2203,1032 H2219 L2216,1010 Z" fill="#1f2d3a"/>

<text class="b" x="1992" y="1107" font-size="32" textLength="84" lengthAdjust="spacingAndGlyphs">OPEN</text>
<text class="b" x="2148" y="1107" font-size="32" textLength="125" lengthAdjust="spacingAndGlyphs">CLOSED</text>

<!-- crystal ball -->
<path d="M2497,1021 L2508,1001 H2568 L2579,1021 Z" fill="#c8815a" stroke="#2c3e50" stroke-width="4" stroke-linejoin="round"/>
<path d="M2503,1011 H2573" stroke="#e7b491" stroke-width="4"/>
<circle cx="2538" cy="958" r="47" fill="url(#gBall)" stroke="#2c3e50" stroke-width="4"/>
<path d="M2552,934 L2555,943 L2564,946 L2555,949 L2552,958 L2549,949 L2540,946 L2549,943 Z" fill="#fff"/>
<path d="M2578,888 L2582,898 L2592,902 L2582,906 L2578,916 L2574,906 L2564,902 L2574,898 Z" fill="#f2b84b"/>
<path d="M2597,916 L2599,922 L2605,924 L2599,926 L2597,932 L2595,926 L2589,924 L2595,922 Z" fill="#6fae6a"/>
<path d="M2478,978 L2480,984 L2486,986 L2480,988 L2478,994 L2476,988 L2470,986 L2476,984 Z" fill="#f2b84b"/>

<text x="2403" y="1075" font-size="29" textLength="271" lengthAdjust="spacingAndGlyphs">Most Critical Factor</text>
<text x="2441" y="1110" font-size="29" textLength="194" lengthAdjust="spacingAndGlyphs">in Forecasting</text>

<path d="M1973,1161 H2678" stroke="#b7c8d1" stroke-width="3"/>

<!-- adjuster -->
<circle cx="2080" cy="1377" r="125" fill="#cde2ea" opacity="0.85"/>
<path d="M1957,1475 L1961,1385 Q1966,1333 2010,1320 L2080,1320 Q2112,1332 2117,1362 L2124,1428 L2108,1475 Z" fill="#8cc6d9" stroke="#2c3e50" stroke-width="4" stroke-linejoin="round"/>
<path d="M1983,1333 L2018,1320 L2036,1398 L2032,1466 L1983,1466 Z" fill="#f0a050" stroke="#2c3e50" stroke-width="3" stroke-linejoin="round"/>
<path d="M2058,1320 L2088,1328 L2098,1402 L2090,1466 L2052,1466 L2052,1392 Z" fill="#f0a050" stroke="#2c3e50" stroke-width="3" stroke-linejoin="round"/>
<path d="M1995,1340 L2002,1455 M2073,1328 L2078,1400" stroke="#fbe9d8" stroke-width="7"/>
<path d="M1984,1436 H2032 M2052,1436 H2092" stroke="#fbe9d8" stroke-width="8"/>
<rect x="1975" y="1466" width="120" height="11" fill="#3a5068"/>
<path d="M2030,1320 L2045,1342 L2058,1320" fill="#bfe0ea" stroke="#2c3e50" stroke-width="3"/>
<ellipse cx="2045" cy="1275" rx="27" ry="34" fill="#eaa67b" stroke="#2c3e50" stroke-width="3"/>
<path d="M2027,1300 L2030,1318 H2060 L2062,1302" fill="#eaa67b" stroke="#2c3e50" stroke-width="3"/>
<ellipse cx="2045" cy="1275" rx="25" ry="32" fill="#eaa67b"/>
<path d="M2016,1272 Q2008,1232 2042,1224 Q2068,1219 2080,1240 Q2071,1250 2057,1246 Q2035,1250 2026,1272 Z" fill="#2f3e52"/>
<ellipse cx="2019" cy="1280" rx="7" ry="10" fill="#eaa67b" stroke="#2c3e50" stroke-width="3"/>
<polygon points="2058,1355 2128,1350 2135,1420 2066,1428" fill="#3a5775" stroke="#2c3e50" stroke-width="4" stroke-linejoin="round"/>
<path d="M1995,1400 Q2030,1395 2062,1392" fill="none" stroke="#2c3e50" stroke-width="4"/>
<ellipse cx="2066" cy="1392" rx="12" ry="9" fill="#eaa67b" stroke="#2c3e50" stroke-width="3"/>
<ellipse cx="2128" cy="1390" rx="10" ry="16" fill="#eaa67b" stroke="#2c3e50" stroke-width="3"/>
<!-- chart card -->
<rect x="2090" y="1212" width="128" height="98" rx="8" fill="#fff" stroke="#2c3e50" stroke-width="4"/>
<polygon points="2100,1308 2097,1326 2114,1308" fill="#fff" stroke="#2c3e50" stroke-width="3" stroke-linejoin="round"/>
<path d="M2104,1226 H2145 M2104,1237 H2152 M2104,1249 H2130" stroke="#a9b8c4" stroke-width="3"/>
<rect x="2105" y="1278" width="13" height="20" fill="#7fa9c4"/>
<rect x="2125" y="1264" width="13" height="34" fill="#7fa9c4"/>
<rect x="2147" y="1257" width="13" height="41" fill="#7fa9c4"/>
<rect x="2169" y="1242" width="13" height="56" fill="#f0a450"/>
<rect x="2190" y="1227" width="14" height="71" fill="#4f86bd"/>
<path d="M2100,1298 H2208" stroke="#2c3e50" stroke-width="3"/>
<!-- magnifier -->
<path d="M2172,1340 L2203,1397" stroke="#2c3e50" stroke-width="15" stroke-linecap="round"/>
<path d="M2175,1346 L2202,1395" stroke="#ee8a45" stroke-width="8" stroke-linecap="round"/>
<circle cx="2153" cy="1313" r="30" fill="#e3eff5" fill-opacity="0.6" stroke="#2c3e50" stroke-width="6"/>
<circle cx="2153" cy="1313" r="24" fill="none" stroke="#8fb3c8" stroke-width="3"/>
<path d="M1950,1477 H2203" stroke="#2c3e50" stroke-width="5" stroke-linecap="round"/>
<circle cx="2216" cy="1477" r="3.5" fill="#2c3e50"/>

<text class="b" x="2260" y="1248" font-size="44" textLength="214" lengthAdjust="spacingAndGlyphs">THE ROLE</text>
<text class="b" x="2260" y="1298" font-size="44" textLength="56" lengthAdjust="spacingAndGlyphs">OF</text>
<text class="b" x="2260" y="1346" font-size="44" textLength="440" lengthAdjust="spacingAndGlyphs">ADJUSTER ESTIMATES</text>
<text x="2260" y="1408" font-size="28" textLength="420" lengthAdjust="spacingAndGlyphs">Individual “Claims Incurred” Data</text>
<text x="2260" y="1442" font-size="28" textLength="441" lengthAdjust="spacingAndGlyphs">Provides More Accurate Forecasts</text>
<text x="2260" y="1476" font-size="28" textLength="436" lengthAdjust="spacingAndGlyphs">Than Cumulative Payment History</text>

<!-- NotebookLM -->
<path d="M2554,1521 V1514 A10,10 0 0 1 2574,1514 V1521 M2559,1521 V1515 A5,5 0 0 1 2569,1515 V1521 M2551,1511 A13,13 0 0 1 2577,1511" fill="none" stroke="#1c1c1c" stroke-width="3"/>
<text x="2586" y="1521" font-size="26" textLength="154" lengthAdjust="spacingAndGlyphs">NotebookLM</text>
</svg>
</body></html>
